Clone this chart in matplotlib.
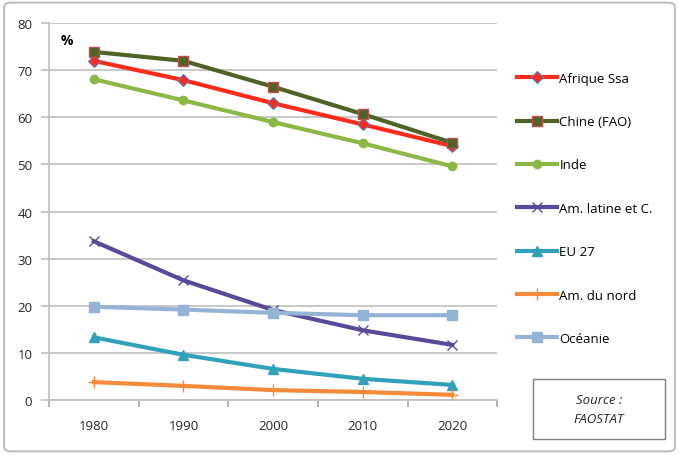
import matplotlib.pyplot as plt
from matplotlib.patches import FancyBboxPatch, Rectangle

plt.rcParams['font.family'] = ['Open Sans', 'DejaVu Sans']

years = [1980, 1990, 2000, 2010, 2020]
afrique = [72.0, 67.9, 63.0, 58.5, 53.9]
chine = [73.9, 72.0, 66.5, 60.7, 54.6]
inde = [68.1, 63.6, 59.0, 54.5, 49.6]
am_latine = [33.7, 25.4, 19.1, 14.8, 11.7]
eu27 = [13.3, 9.6, 6.6, 4.5, 3.2]
am_nord = [3.8, 3.0, 2.1, 1.7, 1.1]
oceanie = [19.8, 19.2, 18.5, 18.0, 18.0]

series = [
    ('Afrique Ssa', afrique, '#FF2A1A', dict(marker='D', ms=6, mfc='#FF2A1A', mec='#4F81BD', mew=0.8)),
    ('Chine (FAO)', chine, '#4F6228', dict(marker='s', ms=7, mfc='#4F6228', mec='#C0504D', mew=1.0)),
    ('Inde', inde, '#8CB846', dict(marker='o', ms=6, mfc='#8CB846', mec='#8CB846')),
    ('Am. latine et C.', am_latine, '#5A4899', dict(marker='x', ms=7, mec='#5A4899', mew=1.0)),
    ('EU 27', eu27, '#31A1BA', dict(marker='^', ms=7, mfc='#31A1BA', mec='#31A1BA')),
    ('Am. du nord', am_nord, '#F58A3A', dict(marker='+', ms=8, mec='#F58A3A', mew=1.0)),
    ('Océanie', oceanie, '#95B3D7', dict(marker='s', ms=7, mfc='#95B3D7', mec='#95B3D7')),
]

fig = plt.figure(figsize=(6.79, 4.56), dpi=100)
ax = fig.add_axes([0.0722, 0.1206, 0.66, 0.8264])

x = list(range(len(years)))
for label, vals, color, mk in series:
    ax.plot(x, vals, color=color, lw=3, label=label, **mk)

ax.set_xlim(-0.5, 4.5)
ax.set_ylim(0, 80)
ax.set_yticks(range(0, 81, 10))
ax.yaxis.grid(True, color='#BFBFBF', lw=1.2)
ax.set_axisbelow(True)
ax.set_xticks([i - 0.5 for i in range(6)])
ax.set_xticklabels([])
ax.set_xticks(x, minor=True)
ax.set_xticklabels([str(y) for y in years], minor=True)
ax.tick_params(axis='x', which='minor', length=0, pad=14, labelsize=9.5, colors='#262626')
ax.tick_params(axis='x', which='major', length=5, color='#A6A6A6', width=1.2)
ax.tick_params(axis='y', length=6, color='#BFBFBF', width=1.2, labelsize=9.5, labelcolor='#262626', pad=6)
for s in ['top', 'right']:
    ax.spines[s].set_visible(False)
for s in ['left', 'bottom']:
    ax.spines[s].set_color('#BFBFBF')
    ax.spines[s].set_linewidth(1.2)

ax.text(0.025, 0.975, '%', transform=ax.transAxes, fontsize=10, fontweight='bold', va='top', ha='left')

ax.legend(loc='upper left', bbox_to_anchor=(1.033, 0.885), frameon=False, fontsize=9.5,
          labelspacing=2.3, handlelength=3.0, handletextpad=0.2, borderaxespad=0)

# source box
fig.patches.append(Rectangle((533 / 679, 1 - 440 / 456), 132 / 679, 60 / 456,
                             transform=fig.transFigure, fc='white', ec='#7F7F7F', lw=1))
fig.text(599 / 679, 1 - 410 / 456, 'Source :\nFAOSTAT', ha='center', va='center', fontsize=9.5,
         style='italic', color='#262626', linespacing=1.6)

# outer chart border
fig.patches.append(FancyBboxPatch((0.006, 0.008), 0.988, 0.984, boxstyle='round,pad=0,rounding_size=0.01',
                                  transform=fig.transFigure, fc='none', ec='#BFBFBF', lw=1.5))

fig.savefig('out.png', dpi=100)
